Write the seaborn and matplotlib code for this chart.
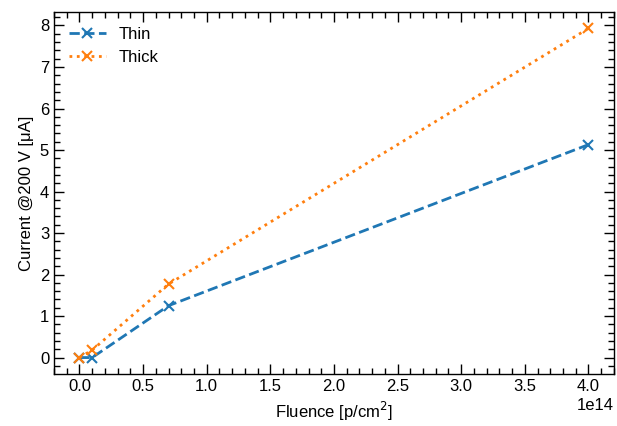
import matplotlib
matplotlib.use("Agg")
import matplotlib.pyplot as plt
import seaborn as sns
import pandas as pd
from matplotlib.ticker import MultipleLocator

fluence = [0.0, 0.1e14, 0.7e14, 4.0e14]
thin = [0.0, 0.0, 1.25, 5.13]
thick = [0.0, 0.18, 1.77, 7.93]

sns.set_style("ticks", {"axes.edgecolor": "black", "xtick.color": "black",
                        "ytick.color": "black", "text.color": "black",
                        "axes.labelcolor": "black"})
plt.rcParams['font.family'] = ['Liberation Sans', 'DejaVu Sans']
plt.rcParams['font.size'] = 12

fig = plt.figure(figsize=(6.17, 4.26), dpi=100)
ax = fig.add_axes([0.0875, 0.122, 0.9075, 0.85])

pal = sns.color_palette("tab10")
sns.lineplot(x=fluence, y=thin, ax=ax, color=pal[0], marker='x', markersize=7.5,
             markeredgewidth=1.5, markeredgecolor=pal[0], linestyle='--',
             linewidth=2, label='Thin')
sns.lineplot(x=fluence, y=thick, ax=ax, color=pal[1], marker='x', markersize=7.5,
             markeredgewidth=1.5, markeredgecolor=pal[1], linestyle=':',
             linewidth=2, label='Thick')

ax.set_xlabel("Fluence [p/cm$^2$]", fontsize=12)
ax.set_ylabel("Current @200 V [μA]", fontsize=12)
ax.xaxis.set_major_locator(MultipleLocator(0.5e14))
ax.xaxis.set_minor_locator(MultipleLocator(0.1e14))
ax.yaxis.set_major_locator(MultipleLocator(1))
ax.yaxis.set_minor_locator(MultipleLocator(0.2))
ax.tick_params(which='both', direction='in', top=True, right=True, labelsize=12)
ax.tick_params(which='major', length=7.5, width=1)
ax.tick_params(which='minor', length=4, width=1)
ax.xaxis.get_offset_text().set_fontsize(12)
for s in ax.spines.values():
    s.set_linewidth(1)
ax.legend(loc='upper left', frameon=False, fontsize=12, handlelength=2.2)

fig.savefig("out.png", dpi=100)
